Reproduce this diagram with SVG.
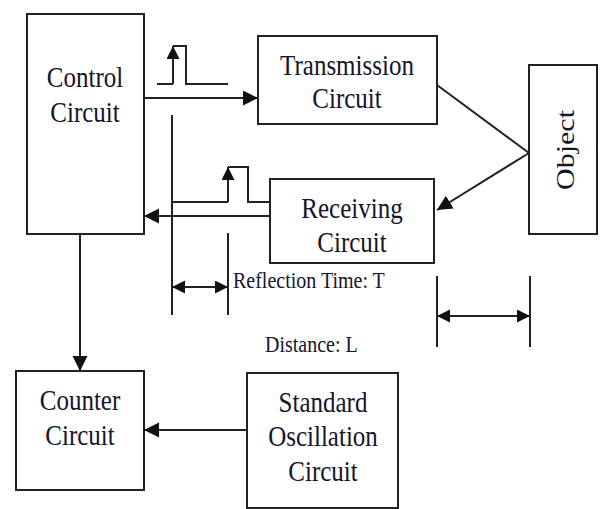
<svg xmlns="http://www.w3.org/2000/svg" width="600" height="509" viewBox="0 0 600 509">
<style>
.box{fill:#fff;stroke:#222;stroke-width:2}
.ln{fill:none;stroke:#222;stroke-width:2}
text{font-family:'Liberation Serif',serif;fill:#15152a}
.t{font-size:25px;text-anchor:middle}
.s{font-size:20px}
</style>
<defs>
<marker id="ah" markerUnits="userSpaceOnUse" markerWidth="16" markerHeight="16" refX="15" refY="7.5" orient="auto-start-reverse" viewBox="0 0 16 16"><path d="M0,0 L15,7.5 L0,15 z" fill="#111"/></marker>
<marker id="sh" markerUnits="userSpaceOnUse" markerWidth="14" markerHeight="14" refX="13" refY="6.5" orient="auto-start-reverse" viewBox="0 0 14 14"><path d="M0,0 L13,6.5 L0,13 z" fill="#111"/></marker>
</defs>
<rect width="600" height="509" fill="#fff"/>
<g id="control">
<rect class="box" x="27" y="14" width="117" height="220"/>
<text class="t" font-family="Liberation Serif, serif" transform="translate(85,87) scale(1,1.2)">Control</text>
<text class="t" font-family="Liberation Serif, serif" transform="translate(85,122) scale(1,1.2)">Circuit</text>
</g>
<g id="transmission">
<rect class="box" x="258" y="36" width="179" height="88"/>
<text class="t" font-family="Liberation Serif, serif" transform="translate(347,75) scale(1,1.2)">Transmission</text>
<text class="t" font-family="Liberation Serif, serif" transform="translate(347,108) scale(1,1.2)">Circuit</text>
</g>
<g id="object">
<rect class="box" x="529" y="65" width="68" height="169"/>
<text class="t" font-family="Liberation Serif, serif" transform="translate(574,150) scale(1,1.2) rotate(-90)">Object</text>
</g>
<g id="receiving">
<rect class="box" x="270" y="179" width="164" height="84"/>
<text class="t" font-family="Liberation Serif, serif" transform="translate(352,218) scale(1,1.2)">Receiving</text>
<text class="t" font-family="Liberation Serif, serif" transform="translate(352,252) scale(1,1.2)">Circuit</text>
</g>
<g id="counter">
<rect class="box" x="16" y="371" width="128" height="119"/>
<text class="t" font-family="Liberation Serif, serif" transform="translate(80,410) scale(1,1.2)">Counter</text>
<text class="t" font-family="Liberation Serif, serif" transform="translate(80,445) scale(1,1.2)">Circuit</text>
</g>
<g id="oscillation">
<rect class="box" x="247" y="373" width="151" height="135"/>
<text class="t" font-family="Liberation Serif, serif" transform="translate(323,412) scale(1,1.2)">Standard</text>
<text class="t" font-family="Liberation Serif, serif" transform="translate(323,446) scale(1,1.2)">Oscillation</text>
<text class="t" font-family="Liberation Serif, serif" transform="translate(323,481) scale(1,1.2)">Circuit</text>
</g>
<g id="connectors">
<line class="ln" x1="144" y1="98" x2="258" y2="98" marker-end="url(#ah)"/>
<line class="ln" x1="437" y1="85" x2="529" y2="153"/>
<line class="ln" x1="529" y1="153" x2="437" y2="210" marker-end="url(#ah)"/>
<line class="ln" x1="270" y1="216" x2="144" y2="216" marker-end="url(#ah)"/>
<line class="ln" x1="80" y1="234" x2="80" y2="371" marker-end="url(#ah)"/>
<line class="ln" x1="247" y1="430" x2="144" y2="430" marker-end="url(#ah)"/>
<path class="ln" d="M157,84 H173 M173,46 H186 V84 H228"/>
<line class="ln" x1="173" y1="84" x2="173" y2="46" marker-end="url(#sh)"/>
<path class="ln" d="M172,202 H228 M228,167 H248 V202 H270"/>
<line class="ln" x1="228" y1="202" x2="228" y2="167" marker-end="url(#sh)"/>
<line class="ln" x1="172" y1="115" x2="172" y2="315"/>
<line class="ln" x1="228" y1="233" x2="228" y2="315"/>
<line class="ln" x1="172" y1="287" x2="228" y2="287" marker-start="url(#sh)" marker-end="url(#sh)"/>
<line class="ln" x1="437" y1="276" x2="437" y2="347"/>
<line class="ln" x1="530" y1="276" x2="530" y2="347"/>
<line class="ln" x1="437" y1="316" x2="530" y2="316" marker-start="url(#sh)" marker-end="url(#sh)"/>
</g>
<text class="s" font-family="Liberation Serif, serif" transform="translate(233,288) scale(1,1.15)">Reflection Time: T</text>
<text class="s" font-family="Liberation Serif, serif" transform="translate(265,352) scale(1,1.15)">Distance: L</text>
</svg>
